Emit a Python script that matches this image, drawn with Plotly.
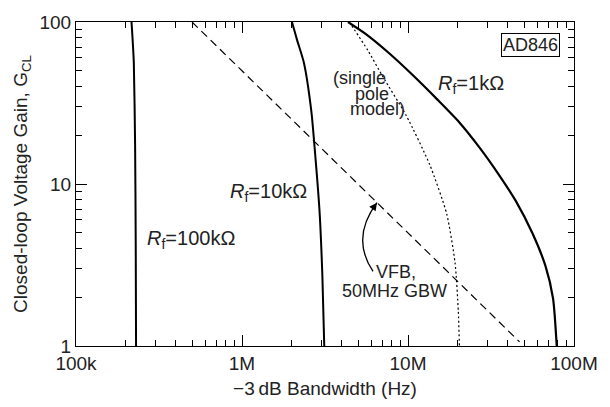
import plotly.graph_objects as go

# ---- data ----
rf100k_gain = [100, 80, 56, 17.5, 4.3, 1]
rf100k_bw = [216e3, 219e3, 223e3, 227e3, 229e3, 230e3]

rf10k_gain = [100, 77, 56, 27.8, 18.2, 6.85, 2.69, 1]
rf10k_bw = [2.0e6, 2.15e6, 2.36e6, 2.62e6, 2.72e6, 2.93e6, 3.05e6, 3.13e6]

rf1k_gain = [100, 84.2, 63.7, 46.1, 33.3, 24.0, 16.6, 11.4, 7.89, 4.96, 3.12, 1.96, 1]
rf1k_bw = [4.35e6, 5.58e6, 7.76e6, 10.9e6, 15.0e6, 20.4e6, 27.2e6, 35.3e6, 44.5e6,
           56.2e6, 67.3e6, 74.8e6, 78.7e6]

single_pole_gain = [100, 66.8, 46, 26.4, 13.2, 6.55, 3.27, 1.63, 1]
single_pole_bw = [4.43e6, 5.73e6, 7.05e6, 9.77e6, 13.5e6, 17.1e6, 19.2e6, 20.1e6, 20.4e6]

vfb_gain = [100, 1.06]
vfb_bw = [0.5e6, 47e6]

x_tickvals = [1e5, 1e6, 1e7, 1e8]
x_ticktext = ["100k", "1M", "10M", "100M"]
y_tickvals = [1, 10, 100]
y_ticktext = ["1", "10", "100"]

FONT = "Liberation Sans, Arial, sans-serif"
W, H = 610, 407
ML, MR, MT, MB = 76, 26, 18, 59

fig = go.Figure()
solid = dict(color="black", width=2, shape="spline", smoothing=0.6)
fig.add_trace(go.Scatter(x=rf100k_bw, y=rf100k_gain, mode="lines", line=solid))
fig.add_trace(go.Scatter(x=rf10k_bw, y=rf10k_gain, mode="lines", line=solid))
fig.add_trace(go.Scatter(x=rf1k_bw, y=rf1k_gain, mode="lines",
                         line=dict(color="black", width=2.2, shape="spline", smoothing=0.6)))
fig.add_trace(go.Scatter(x=single_pole_bw, y=single_pole_gain, mode="lines",
                         line=dict(color="black", width=1.2, dash="2px,2.5px",
                                   shape="spline", smoothing=0.6)))
fig.add_trace(go.Scatter(x=vfb_bw, y=vfb_gain, mode="lines",
                         line=dict(color="black", width=1.2, dash="8px,5px")))

minor_x = [m * 10 ** d for d in range(5, 8) for m in range(2, 10)]
minor_y = [m * 10 ** d for d in range(0, 2) for m in range(2, 10)]

axis_common = dict(
    type="log", showgrid=False, zeroline=False, showline=True, linecolor="black",
    linewidth=1.2, mirror="allticks", ticks="inside", ticklen=11, tickwidth=1.2,
    tickcolor="black", tickfont=dict(family=FONT, size=19, color="#222"),
)
fig.update_xaxes(
    **axis_common, range=[5, 8], tickmode="array", tickvals=x_tickvals, ticktext=x_ticktext,
    minor=dict(tickmode="array", tickvals=minor_x, ticks="inside", ticklen=6,
               tickwidth=1, tickcolor="black", showgrid=False),
    title=dict(text="\u22123\u2009dB Bandwidth (Hz)", font=dict(family=FONT, size=19, color="#222"),
               standoff=8),
)
fig.update_yaxes(
    **axis_common, range=[0, 2], tickmode="array", tickvals=y_tickvals, ticktext=y_ticktext,
    minor=dict(tickmode="array", tickvals=minor_y, ticks="inside", ticklen=6,
               tickwidth=1, tickcolor="black", showgrid=False),
    title=dict(text="Closed-loop Voltage Gain, G<sub>CL</sub>",
               font=dict(family=FONT, size=19, color="#222"), standoff=6),
)

pw, ph = W - ML - MR, H - MT - MB
def px(x):
    return (x - ML) / pw
def py(y):
    return (H - MB - y) / ph

afont = dict(family=FONT, size=20, color="#222")
sfont = dict(family=FONT, size=18, color="#222")
ann = [
    dict(x=px(193), y=py(240), text="<i>R</i><sub>f</sub>=100kΩ", font=afont),
    dict(x=px(272), y=py(192), text="<i>R</i><sub>f</sub>=10kΩ", font=afont),
    dict(x=px(479), y=py(82), text="<i>R</i><sub>f</sub>=1kΩ", font=afont),
    dict(x=px(365), y=py(75), text="(single", font=sfont),
    dict(x=px(378), y=py(91), text="pole", font=sfont),
    dict(x=px(384), y=py(107), text="model)", font=sfont),
    dict(x=px(402), y=py(273), text="VFB,", font=sfont),
    dict(x=px(401), y=py(292), text="50MHz GBW", font=sfont),
    dict(x=px(540), y=py(41), text="AD846", font=sfont, bordercolor="black",
         borderwidth=1, borderpad=1, bgcolor="white"),
]
annotations = [dict(xref="paper", yref="paper", showarrow=False, xanchor="center",
                    yanchor="middle", **a) for a in ann]
# arrowhead of the curved pointer
annotations.append(dict(xref="paper", yref="paper", x=px(383), y=py(202), text="",
                        showarrow=True, arrowhead=2, arrowsize=1.2, arrowwidth=1.3,
                        arrowcolor="black", ax=-5, ay=7, standoff=0))

shapes = [dict(type="path", xref="paper", yref="paper",
               path=f"M {px(379)} {py(272)} Q {px(356)} {py(238)} {px(383)} {py(202)}",
               line=dict(color="black", width=1.3))]

fig.update_layout(
    width=W, height=H, margin=dict(l=ML, r=MR, t=MT, b=MB),
    paper_bgcolor="white", plot_bgcolor="white", showlegend=False,
    annotations=annotations, shapes=shapes,
)
fig.write_html("out.html")
